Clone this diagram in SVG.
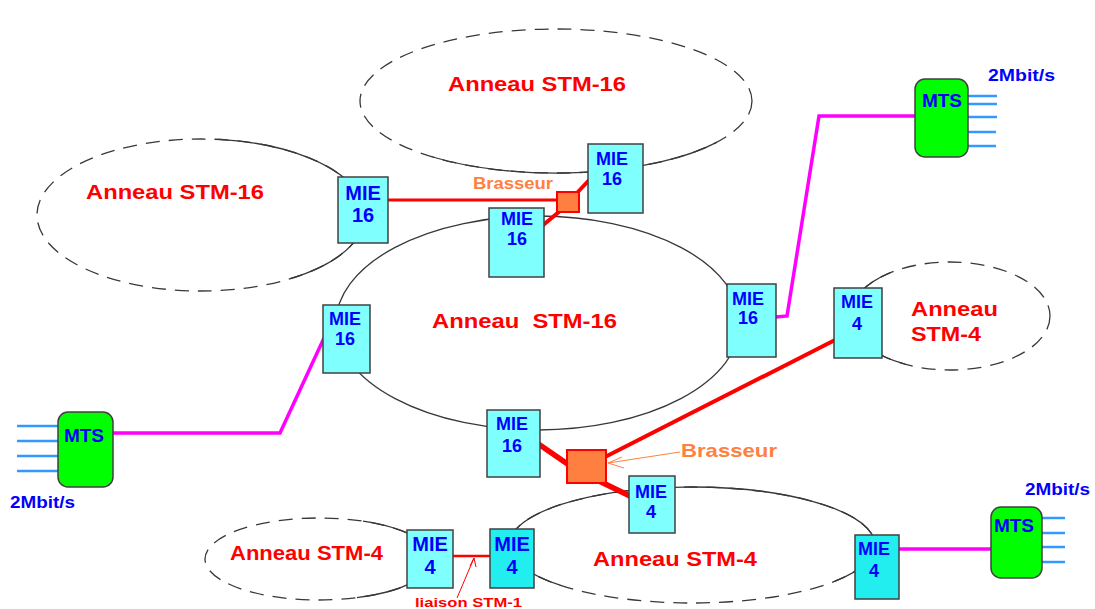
<svg xmlns="http://www.w3.org/2000/svg" width="1095" height="609" viewBox="0 0 1095 609">
<style>
.ring{fill:none;stroke:#383838;stroke-width:1.3}
.dash{stroke-dasharray:14 9}
.lbl{font-family:"Liberation Sans",Arial,sans-serif;font-weight:bold;font-size:21px;fill:#ff0000}
.mie{fill:#80ffff;stroke:#404040;stroke-width:1.5}
.mie2{fill:#22eef0;stroke:#404040;stroke-width:1.5}
.mt{font-family:"Liberation Sans",Arial,sans-serif;font-weight:bold;fill:#0000ff;text-anchor:middle}
.mts{fill:#00ff00;stroke:#404040;stroke-width:1.5}
.trib{stroke:#3399ff;stroke-width:2.5}
.rate{font-family:"Liberation Sans",Arial,sans-serif;font-weight:bold;font-size:16px;fill:#0000ff}
.mag{fill:none;stroke:#ff00ff;stroke-width:3.5}
.red{fill:none;stroke:#ff0000;stroke-linecap:butt}
.bras{fill:#ff7f40;stroke:#ff0000;stroke-width:2}
.bl{font-family:"Liberation Sans",Arial,sans-serif;font-weight:bold;fill:#ff8040}
</style>
<rect width="1095" height="609" fill="#ffffff"/>
<g id="rings">
  <ellipse class="ring dash" cx="556" cy="101" rx="196" ry="72"/>
  <path class="ring" d="M716.6,142.3 A196,72 0 0 1 432.7,157"/>
  <ellipse class="ring dash" cx="201" cy="215" rx="164" ry="76"/>
  <path class="ring" d="M218.1,139.4 A164,76 0 0 1 290.3,278.7"/>
  <ellipse class="ring" cx="538" cy="323" rx="202" ry="107"/>
  <ellipse class="ring dash" cx="950" cy="316" rx="100" ry="54"/>
  <path class="ring" d="M905,364.2 A100,54 0 0 1 890,272.8"/>
  <ellipse class="ring dash" cx="319" cy="559" rx="114" ry="41"/>
  <path class="ring" d="M363,521.2 A114,41 0 0 1 357,597.7"/>
  <ellipse class="ring dash" cx="692" cy="545" rx="183" ry="58"/>
  <path class="ring" d="M835,581.2 A183,58 0 1 0 560.1,585.2"/>
  <text class="lbl" x="448" y="91" textLength="178" lengthAdjust="spacingAndGlyphs">Anneau STM-16</text>
  <text class="lbl" x="86" y="199" textLength="178" lengthAdjust="spacingAndGlyphs">Anneau STM-16</text>
  <text class="lbl" x="432" y="328" textLength="185" lengthAdjust="spacingAndGlyphs" xml:space="preserve">Anneau  STM-16</text>
  <text class="lbl" x="911" y="316" textLength="87" lengthAdjust="spacingAndGlyphs">Anneau</text>
  <text class="lbl" x="911" y="341" textLength="70" lengthAdjust="spacingAndGlyphs">STM-4</text>
  <text class="lbl" x="230" y="560" textLength="153" lengthAdjust="spacingAndGlyphs">Anneau STM-4</text>
  <text class="lbl" x="593" y="566" textLength="164" lengthAdjust="spacingAndGlyphs">Anneau STM-4</text>
</g>
<g id="connectors">
  <line class="red" x1="388" y1="200" x2="557" y2="200" stroke-width="3"/>
  <line class="red" x1="576" y1="194" x2="591" y2="178" stroke-width="4"/>
  <line class="red" x1="560" y1="211" x2="542" y2="226" stroke-width="4"/>
  <line class="red" x1="537" y1="443" x2="569" y2="465" stroke-width="5.5"/>
  <line class="red" x1="599" y1="481" x2="632" y2="497" stroke-width="5.5"/>
  <line class="red" x1="605" y1="457" x2="835" y2="340" stroke-width="4"/>
  <line class="red" x1="453" y1="556" x2="490" y2="556" stroke-width="2.5"/>
  <polyline class="mag" points="113,433 280,433 324,338"/>
  <polyline class="mag" points="915,116 819,116 787,316 776,317"/>
  <line class="mag" x1="899" y1="549" x2="991" y2="549"/>
  <g stroke="#ff8040" stroke-width="1" fill="none">
    <line x1="680" y1="452" x2="608" y2="463"/>
    <line x1="608" y1="463" x2="624" y2="468"/>
    <line x1="608" y1="463" x2="622" y2="457"/>
  </g>
  <g stroke="#ff0000" stroke-width="1" fill="none">
    <line x1="457" y1="598" x2="474" y2="558"/>
    <line x1="474" y1="558" x2="470" y2="566"/>
    <line x1="474" y1="558" x2="476" y2="567"/>
  </g>
  <text class="bl" x="473" y="189" font-size="16" textLength="80" lengthAdjust="spacingAndGlyphs">Brasseur</text>
  <text class="bl" x="681" y="457" font-size="19" textLength="96" lengthAdjust="spacingAndGlyphs">Brasseur</text>
  <text x="415" y="607" font-family="Liberation Sans, Arial, sans-serif" font-weight="bold" font-size="13" fill="#ff0000" textLength="107" lengthAdjust="spacingAndGlyphs">liaison STM-1</text>
</g>
<g id="brasseur1"><rect class="bras" x="557" y="192" width="22" height="20"/></g>
<g id="brasseur2"><rect class="bras" x="567" y="450" width="39" height="33"/></g>
<g id="mie16-a"><rect class="mie" x="338" y="177" width="50" height="66"/><text class="mt" font-size="20" x="363" y="200">MIE</text><text class="mt" font-size="20" x="363" y="222">16</text></g>
<g id="mie16-b"><rect class="mie" x="588" y="144" width="55" height="69"/><text class="mt" font-size="18" x="612" y="165">MIE</text><text class="mt" font-size="18" x="612" y="185">16</text></g>
<g id="mie16-c"><rect class="mie" x="489" y="208" width="55" height="69"/><text class="mt" font-size="18" x="517" y="225">MIE</text><text class="mt" font-size="18" x="517" y="245">16</text></g>
<g id="mie16-d"><rect class="mie" x="323" y="305" width="47" height="68"/><text class="mt" font-size="18" x="345" y="325">MIE</text><text class="mt" font-size="18" x="345" y="345">16</text></g>
<g id="mie16-e"><rect class="mie" x="727" y="284" width="49" height="73"/><text class="mt" font-size="18" x="748" y="305">MIE</text><text class="mt" font-size="18" x="748" y="324">16</text></g>
<g id="mie16-f"><rect class="mie" x="487" y="410" width="53" height="67"/><text class="mt" font-size="18" x="512" y="430">MIE</text><text class="mt" font-size="18" x="512" y="452">16</text></g>
<g id="mie4-a"><rect class="mie" x="834" y="288" width="48" height="70"/><text class="mt" font-size="18" x="857" y="308">MIE</text><text class="mt" font-size="18" x="857" y="330">4</text></g>
<g id="mie4-b"><rect class="mie" x="629" y="476" width="46" height="57"/><text class="mt" font-size="18" x="651" y="498">MIE</text><text class="mt" font-size="18" x="651" y="518">4</text></g>
<g id="mie4-c"><rect class="mie" x="407" y="530" width="46" height="58"/><text class="mt" font-size="20" x="430" y="551">MIE</text><text class="mt" font-size="20" x="430" y="574">4</text></g>
<g id="mie4-d"><rect class="mie2" x="490" y="529" width="44" height="59"/><text class="mt" font-size="20" x="512" y="551">MIE</text><text class="mt" font-size="20" x="512" y="574">4</text></g>
<g id="mie4-e"><rect class="mie2" x="855" y="535" width="44" height="64"/><text class="mt" font-size="18" x="874" y="555">MIE</text><text class="mt" font-size="18" x="874" y="577">4</text></g>
<g id="mts-left">
  <line class="trib" x1="17" y1="426" x2="58" y2="426"/><line class="trib" x1="17" y1="441" x2="58" y2="441"/><line class="trib" x1="17" y1="456" x2="58" y2="456"/><line class="trib" x1="17" y1="471" x2="58" y2="471"/>
  <rect class="mts" x="58" y="412" width="55" height="75" rx="10"/>
  <text class="mt" font-size="19" x="84" y="442">MTS</text>
  <text class="rate" x="10" y="508" textLength="65" lengthAdjust="spacingAndGlyphs">2Mbit/s</text>
</g>
<g id="mts-top">
  <line class="trib" x1="968" y1="96" x2="997" y2="96"/><line class="trib" x1="968" y1="104" x2="997" y2="104"/><line class="trib" x1="968" y1="117" x2="997" y2="117"/><line class="trib" x1="968" y1="132" x2="996" y2="132"/><line class="trib" x1="968" y1="146" x2="996" y2="146"/>
  <rect class="mts" x="915" y="79" width="53" height="78" rx="10"/>
  <text class="mt" font-size="19" x="942" y="107">MTS</text>
  <text class="rate" x="988" y="81" textLength="67" lengthAdjust="spacingAndGlyphs">2Mbit/s</text>
</g>
<g id="mts-bottom">
  <line class="trib" x1="1042" y1="518" x2="1065" y2="518"/><line class="trib" x1="1042" y1="533" x2="1065" y2="533"/><line class="trib" x1="1042" y1="547" x2="1065" y2="547"/><line class="trib" x1="1042" y1="562" x2="1065" y2="562"/>
  <rect class="mts" x="991" y="507" width="51" height="71" rx="10"/>
  <text class="mt" font-size="19" x="1014" y="532">MTS</text>
  <text class="rate" x="1025" y="495" textLength="65" lengthAdjust="spacingAndGlyphs">2Mbit/s</text>
</g>
</svg>
